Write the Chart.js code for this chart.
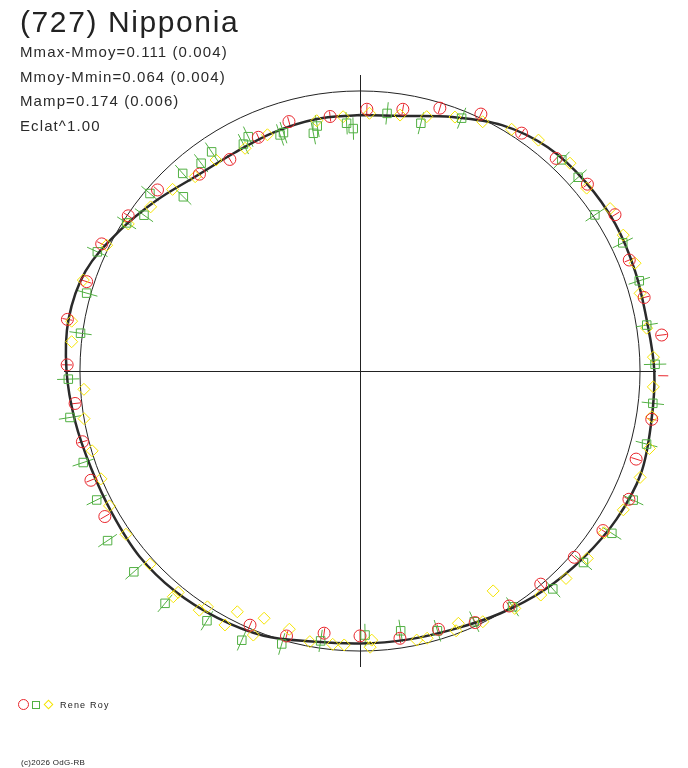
<!DOCTYPE html>
<html>
<head>
<meta charset="utf-8">
<script src="https://cdn.jsdelivr.net/npm/chart.js@4.4.0/dist/chart.umd.min.js"></script>
<style>
  html, body { margin: 0; padding: 0; background: #fff; }
  #wrap { position: relative; width: 688px; height: 768px; }
  #wrap canvas { position: absolute; left: 0; top: 0; }
  .txt { position: absolute; font-family: "Liberation Sans", Arial, sans-serif; color: #222; line-height: 1; white-space: nowrap; }
  #title { left: 20px; top: 7px; font-size: 30px; letter-spacing: 1.6px; }
  .stat { left: 20px; font-size: 15px; letter-spacing: 1.1px; color: #2a2a2a; }
  #observer { left: 60px; top: 701px; font-size: 9px; letter-spacing: 1.2px; }
  #copy { left: 21px; top: 759px; font-size: 8px; letter-spacing: 0.3px; }
  .mk { position: absolute; box-sizing: border-box; }
</style>
</head>
<body>
<div id="wrap">
  <canvas id="polarChart"></canvas>
  <div class="txt" id="title">(727) Nipponia</div>
  <div class="txt stat" style="top:44px">Mmax-Mmoy=0.111 (0.004)</div>
  <div class="txt stat" style="top:69px">Mmoy-Mmin=0.064 (0.004)</div>
  <div class="txt stat" style="top:93px">Mamp=0.174 (0.006)</div>
  <div class="txt stat" style="top:118px">Eclat^1.00</div>
  <div class="mk" style="left:18px;top:699px;width:11px;height:11px;border:1px solid #e8262c;border-radius:50%"></div>
  <div class="mk" style="left:32px;top:701px;width:8px;height:8px;border:1px solid #52b043"></div>
  <div class="mk" style="left:45px;top:701px;width:7px;height:7px;border:1px solid #f5e400;transform:rotate(45deg)"></div>
  <div class="txt" id="observer">Rene Roy</div>
  <div class="txt" id="copy">(c)2026 OdG-RB</div>
</div>
<script>
// model light curve, polar: angle in degrees (clockwise from top), radius (reference circle = 1)
const curveAngle = [0, 10, 20, 30, 40, 50, 60, 70, 80, 90, 100, 110, 120, 130, 140, 150, 160, 170,
  180, 190, 200, 210, 220, 230, 240, 250, 260, 270, 280, 290, 300, 310, 320, 330, 340, 350];
const curveR = [0.914, 0.925, 0.965, 1.014, 1.043, 1.051, 1.052, 1.045, 1.040, 1.051, 1.056, 1.068,
  1.058, 1.040, 1.022, 1.000, 0.981, 0.974, 0.973, 0.981, 1.006, 1.018, 1.027, 1.029, 1.021, 1.021,
  1.033, 1.048, 1.057, 1.043, 0.995, 0.948, 0.909, 0.899, 0.906, 0.913];

// observations, red circles
const redAngle = [1.5, 9.3, 16.9, 25.2, 34.2, 42.7, 50.6, 58.5, 67.6, 75.5, 83.2, 90.9, 99.4, 107.7,
  115.5, 123.3, 131, 139.7, 147.6, 155.4, 163.1, 171.5, 180, 187.8, 195.5, 203.4, 240.3, 247.9, 255.7,
  263.5, 271.2, 280, 288.1, 296.2, 303.8, 311.8, 320.8, 328.4, 336.5, 344.1, 353.3];
const redR = [0.935, 0.947, 0.981, 1.014, 1.027, 1.033, 1.051, 1.068, 1.040, 1.048, 1.085, 1.083,
  1.056, 1.035, 1.064, 1.038, 1.014, 0.998, 0.994, 0.988, 0.964, 0.965, 0.946, 0.945, 0.982, 0.989,
  1.049, 1.037, 1.023, 1.024, 1.046, 1.061, 1.027, 1.028, 0.996, 0.970, 0.907, 0.887, 0.910, 0.926, 0.915];

// green squares
const greenAngle = [6.0, 13.8, 21.9, 43.7, 48.4, 56.4, 64, 72.1, 80.9, 88.7, 96.3, 104.3, 115.3, 122.8,
  130.6, 138.5, 147.1, 155.5, 163.4, 171.1, 178.9, 188.3, 196, 203.7, 211.5, 220, 228.4, 236.1, 243.9,
  251.7, 260.9, 268.4, 277.7, 285.9, 294.4, 302.4, 305.8, 310.2, 314.6, 318.1, 322.6, 325.9, 332.8,
  334.5, 341.3, 342.2, 348.9, 350.1, 356.9, 358.4];
const greenR = [0.925, 0.911, 0.973, 1.043, 1.042, 1.007, 1.044, 1.048, 1.037, 1.054, 1.052, 1.056,
  1.079, 1.070, 1.051, 1.039, 1.003, 0.984, 0.968, 0.939, 0.943, 0.974, 1.014, 1.050, 1.046, 1.083,
  1.080, 1.086, 1.047, 1.041, 1.049, 1.042, 1.007, 1.015, 1.030, 0.987, 0.951, 0.982, 0.886, 0.948,
  0.934, 0.945, 0.911, 0.927, 0.890, 0.894, 0.865, 0.888, 0.886, 0.866];

// yellow diamonds
const yellowAngle = [2.1, 8.9, 14.7, 20.5, 26.2, 32.1, 37.7, 45.3, 51.1, 57, 62.7, 68.6, 74.5, 81.5,
  87.3, 93.1, 98.9, 105, 110.8, 117.8, 123.5, 129.5, 135.2, 141.1, 146.9, 148.8, 153.9, 158.7, 159.7,
  165.9, 168.1, 177.5, 177.9, 183.3, 185.7, 190.5, 195.3, 201.2, 202, 207, 208, 212.9, 213.9, 219.4,
  219.6, 227.4, 235.1, 241.7, 247.4, 253.4, 260.2, 266.2, 275.8, 279.8, 288.2, 296.4, 302.4, 308.1,
  314.1, 319.7, 325.7, 332.7, 338.6, 350.2, 356.2];
const yellowR = [0.921, 0.925, 0.939, 0.968, 0.992, 1.019, 1.042, 1.055, 1.040, 1.065, 1.058, 1.055,
  1.038, 1.035, 1.049, 1.049, 1.055, 1.070, 1.070, 1.063, 1.046, 1.052, 1.044, 1.028, 1.012, 0.918,
  0.997, 0.967, 0.989, 0.984, 0.982, 0.962, 0.987, 0.980, 0.981, 0.983, 0.956, 0.947, 1.017, 0.965,
  1.027, 1.003, 1.029, 1.023, 1.046, 1.019, 1.019, 1.016, 1.002, 0.998, 1.000, 0.988, 1.035, 1.045,
  1.040, 1.010, 0.980, 0.950, 0.932, 0.910, 0.912, 0.895, 0.906, 0.907, 0.910];

const redErr = 0.018;
const greenErr = 0.04;
const LIM = 1.057;

const toXY = (angles, radii) =>
  angles.map((a, i) => ({
    x: radii[i] * Math.sin((a * Math.PI) / 180),
    y: radii[i] * Math.cos((a * Math.PI) / 180),
  }));

const curvePts = toXY(curveAngle, curveR);
curvePts.push(curvePts[0]);

// axes, reference circle and error ticks, all placed through the scales
const polarFrame = {
  id: "polarFrame",
  beforeDatasetsDraw(chart) {
    const { ctx, chartArea: a, scales } = chart;
    const sx = scales.x, sy = scales.y;
    const cx = sx.getPixelForValue(0);
    const cy = sy.getPixelForValue(0);
    const rad = sx.getPixelForValue(1) - cx;
    ctx.save();
    ctx.strokeStyle = "#222";
    ctx.lineWidth = 1;
    ctx.beginPath();
    ctx.moveTo(a.left, Math.round(cy) + 0.5);
    ctx.lineTo(a.right, Math.round(cy) + 0.5);
    ctx.moveTo(Math.round(cx) + 0.5, a.top);
    ctx.lineTo(Math.round(cx) + 0.5, a.bottom);
    ctx.stroke();
    ctx.beginPath();
    ctx.arc(cx, cy, rad, 0, Math.PI * 2);
    ctx.stroke();

    chart.data.datasets.forEach((ds) => {
      if (!ds.err) return;
      ctx.strokeStyle = ds.borderColor;
      ds.data.forEach((p) => {
        const r = Math.hypot(p.x, p.y);
        const ux = p.x / r, uy = p.y / r;
        ctx.beginPath();
        ctx.moveTo(sx.getPixelForValue(p.x - ux * ds.err), sy.getPixelForValue(p.y - uy * ds.err));
        ctx.lineTo(sx.getPixelForValue(p.x + ux * ds.err), sy.getPixelForValue(p.y + uy * ds.err));
        ctx.stroke();
      });
    });
    ctx.restore();
  },
};

const markerSet = (data, style, color, err, order) => ({
  data,
  pointStyle: style,
  pointRadius: 6,
  pointBorderWidth: 1,
  borderColor: color,
  backgroundColor: "rgba(0,0,0,0)",
  showLine: false,
  clip: false,
  err,
  order,
});

new Chart(document.getElementById("polarChart"), {
  type: "scatter",
  data: {
    datasets: [
      markerSet(toXY(redAngle, redR), "circle", "#e8262c", redErr, 1),
      markerSet(toXY(greenAngle, greenR), "rect", "#52b043", greenErr, 2),
      markerSet(toXY(yellowAngle, yellowR), "rectRot", "#f5e400", 0, 3),
      {
        data: curvePts,
        showLine: true,
        pointRadius: 0,
        borderColor: "#2a2a2a",
        borderWidth: 2.5,
        tension: 0.35,
        clip: false,
        order: 4,
      },
    ],
  },
  options: {
    animation: false,
    responsive: true,
    maintainAspectRatio: false,
    layout: { padding: { left: 64, right: 32, top: 75, bottom: 101 } },
    scales: {
      x: { type: "linear", min: -LIM, max: LIM, display: false },
      y: { type: "linear", min: -LIM, max: LIM, display: false },
    },
    plugins: {
      legend: { display: false },
      tooltip: { enabled: false },
    },
  },
  plugins: [polarFrame],
});
</script>
</body>
</html>
